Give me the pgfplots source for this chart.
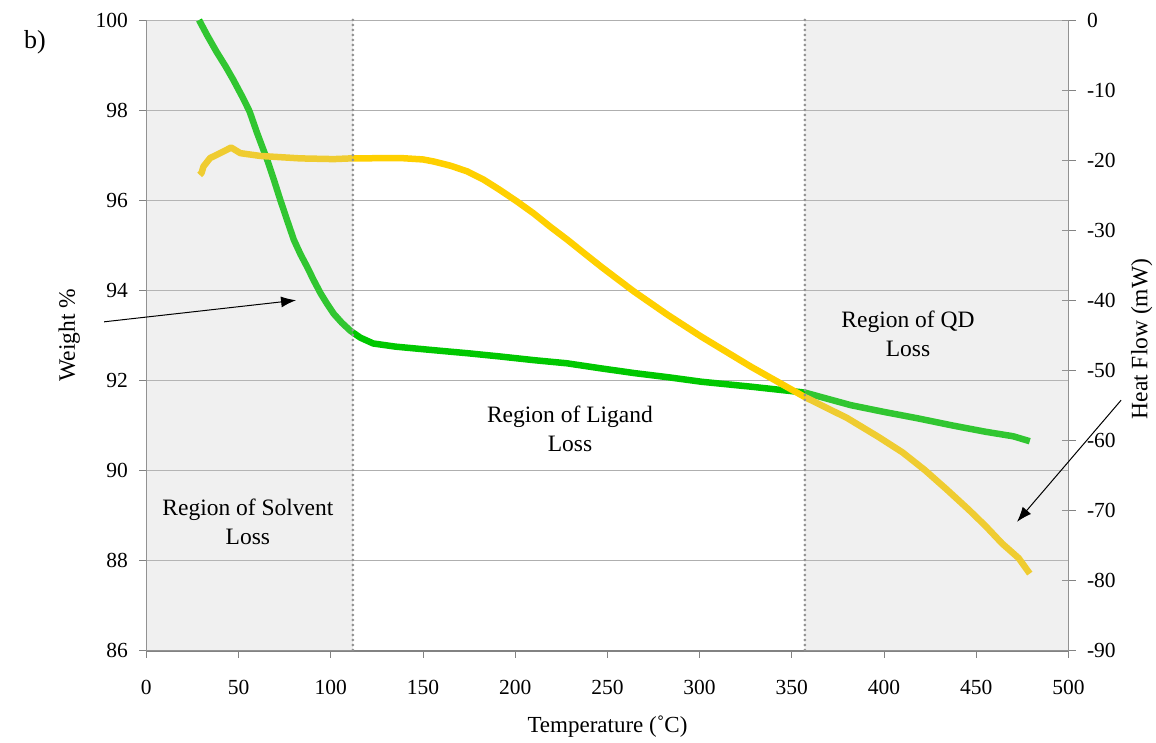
\documentclass[border=0pt]{standalone}
\usepackage{pgfplots}
\pgfplotsset{compat=1.18}
\usepackage{fontspec}
\setmainfont{Liberation Serif}
\usetikzlibrary{arrows.meta}
\definecolor{grn}{RGB}{0,200,0}
\definecolor{ylw}{RGB}{255,208,0}
\definecolor{gridc}{RGB}{175,175,175}
\definecolor{axc}{RGB}{130,130,130}
\definecolor{shadec}{RGB}{196,196,196}
\definecolor{dotc}{RGB}{145,145,145}
\begin{document}
\begin{tikzpicture}[x=1pt,y=1pt]
\useasboundingbox (-146.3,-91.3) rectangle (1009.7,650.7);
\begin{axis}[at={(0,0)},anchor=south west,
  scale only axis, width=922.2pt, height=630.7pt,
  xmin=0, xmax=500, ymin=86, ymax=100,
  xtick={0,50,...,500}, ytick={86,88,...,100},
  axis x line*=bottom, axis y line*=left,
  axis line style={axc,line width=1.2pt,-},
  x axis line style={line width=1.8pt},
  tick style={axc,line width=0.8pt},
  major tick length=7pt, tick align=outside,
  ymajorgrids, grid style={gridc,line width=0.8pt},
  ticklabel style={font=\fontsize{21.5}{26}\selectfont},
  xticklabel style={yshift=-19pt},
  yticklabel style={xshift=-8pt},
  /pgf/number format/assume math mode=true,
  clip=false]
\addplot[grn, line width=6.5pt, line join=round] coordinates {
(28.6,100.0) (33,99.66) (38,99.3) (43,98.97) (47.2,98.67)
(52,98.3) (56,97.97) (60,97.5) (65.6,96.89) (69.2,96.45) (72.7,96.0)
(76.4,95.55) (80,95.12) (83.6,94.8) (87.2,94.52) (90.8,94.22) (94.4,93.94)
(98,93.7) (101.6,93.48) (106,93.28) (110.7,93.1) (116,92.95) (123,92.82)
(135,92.75) (156,92.67) (175,92.6)
(192,92.53) (210,92.45) (228,92.38) (246,92.27) (265,92.16) (283,92.07)
(301,91.97) (328,91.86) (357,91.73) (382,91.45) (400,91.3) (418,91.16)
(437,91.0) (455,90.86) (470,90.76) (479,90.65)};
\end{axis}
\begin{axis}[at={(0,0)},anchor=south west,
  scale only axis, width=922.2pt, height=630.7pt,
  xmin=0, xmax=500, ymin=-90, ymax=0,
  axis x line=none, axis y line*=right,
  ytick={-90,-80,...,0},
  axis line style={axc,line width=1.2pt,-},
  tick style={axc,line width=0.8pt},
  major tick length=14pt, tick align=center,
  ticklabel style={font=\fontsize{21.5}{26}\selectfont},
  yticklabel style={xshift=8pt},
  /pgf/number format/assume math mode=true,
  clip=false]
\addplot[ylw, line width=6.5pt, line join=round] coordinates {
(28.9,-22.1) (30,-21.8) (31,-20.9) (34.6,-19.7) (40,-19.0) (46,-18.2) (51,-19.0)
(61.8,-19.4) (83.5,-19.75) (101.6,-19.85) (110.7,-19.75) (137.9,-19.7)
(150,-19.9) (156,-20.2) (165,-20.8) (174,-21.6) (183,-22.8) (192,-24.3)
(201,-25.9) (210,-27.6) (219,-29.5) (228.5,-31.4) (237.5,-33.3) (246.6,-35.2)
(255.6,-37.0) (264.7,-38.8) (282.8,-42.1) (301,-45.2) (328,-49.5) (357,-53.8)
(380,-56.8) (397,-59.5) (410,-61.7) (422,-64.2) (434,-67.0) (446,-69.9)
(455,-72.2) (464,-74.7) (473,-76.8) (479,-79.0)};
\fill[shadec, fill opacity=0.255] (axis cs:0,-90) rectangle (axis cs:112,0);
\fill[shadec, fill opacity=0.255] (axis cs:357,-90) rectangle (axis cs:500,0);
\draw[dotc, line width=3pt, line cap=round, dash pattern=on 0pt off 5pt] (axis cs:112,0) -- (axis cs:112,-90.6);
\draw[dotc, line width=3pt, line cap=round, dash pattern=on 0pt off 5pt] (axis cs:357,0) -- (axis cs:357,-90.6);
\node[align=center, font=\fontsize{23.5}{29}\selectfont] at (axis cs:55.1,-71.6) {Region of Solvent\\Loss};
\node[align=center, font=\fontsize{23.5}{29}\selectfont] at (axis cs:229.7,-58.4) {Region of Ligand\\Loss};
\node[align=center, font=\fontsize{23.5}{29}\selectfont] at (axis cs:413,-44.8) {Region of QD\\Loss};
\draw[black, line width=1pt, -{Latex[length=15pt,width=11pt]}] (axis cs:-22.9,-43.07) -- (axis cs:81.2,-39.99);
\draw[black, line width=1pt, -{Latex[length=15pt,width=11pt]}] (axis cs:528.5,-54.26) -- (axis cs:472.1,-71.61);
\end{axis}
\node[rotate=90, font=\fontsize{23.5}{28}\selectfont] at (-77,315.7) {Weight \%};
\node[rotate=90, font=\fontsize{23.5}{28}\selectfont] at (995.4,311.7) {Heat Flow (mW)};
\node[font=\fontsize{23}{27}\selectfont] at (461.2,-76) {Temperature (˚C)};
\node[font=\fontsize{26}{30}\selectfont] at (-111.3,608.7) {b)};
\end{tikzpicture}
\end{document}
